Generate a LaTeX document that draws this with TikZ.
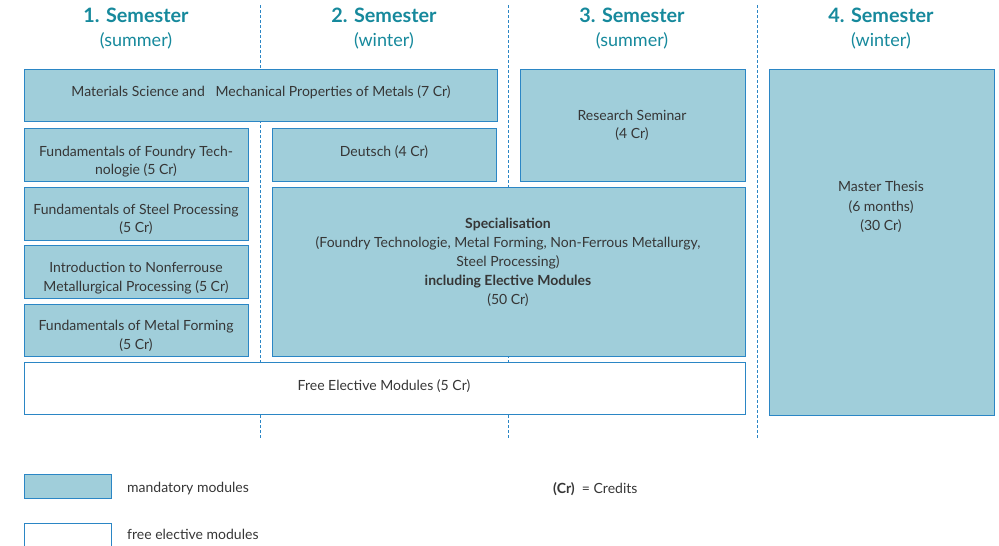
\documentclass[tikz,border=0pt]{standalone}
\usepackage{fontspec}
\setmainfont{Lato}
\definecolor{modfill}{HTML}{A0CEDA}
\definecolor{modline}{HTML}{2B86C5}
\definecolor{headc}{HTML}{16899C}
\definecolor{txt}{HTML}{363636}
\begin{document}
\begin{tikzpicture}[x=1pt,y=-1pt,
  mand/.style={draw=modline,line width=1.1pt,fill=modfill,anchor=north west,inner sep=0pt},
  free/.style={mand,fill=white},
  lbl/.style={text=txt,font=\fontsize{14}{18.7}\selectfont,align=center,inner sep=0pt},
  head/.style={text=headc,font=\fontsize{19.8}{22}\selectfont\bfseries,inner sep=0pt},
  sub/.style={text=headc,font=\fontsize{18}{20}\selectfont,inner sep=0pt},
  sep/.style={draw=modline,line width=1pt,dash pattern=on 2.5pt off 2.5pt}]
\useasboundingbox (0,0) rectangle (999,546);
% separators
\coordinate (s1t) at (260,5); \coordinate (s1b) at (260,438);
\coordinate (s2t) at (508,5); \coordinate (s2b) at (508,438);
\coordinate (s3t) at (757,5); \coordinate (s3b) at (757,438);
\draw[sep] (s1t) -- (s1b);
\draw[sep] (s2t) -- (s2b);
\draw[sep] (s3t) -- (s3b);
% headings
\node[head] (h1) at (136,15) {1. Semester};
\node[sub]  (u1) at (136,41) {(summer)};
\node[head] (h2) at (384,15) {2. Semester};
\node[sub]  (u2) at (384,41) {(winter)};
\node[head] (h3) at (632,15) {3. Semester};
\node[sub]  (u3) at (632,41) {(summer)};
\node[head] (h4) at (881,15) {4. Semester};
\node[sub]  (u4) at (881,41) {(winter)};
% boxes
\node[mand,minimum width=473pt,minimum height=52pt] (mat) at (24,69) {};
\node[lbl] (matt) at (261,92) {Materials Science and\ \ \ Mechanical Properties of Metals (7 Cr)};
\node[mand,minimum width=224pt,minimum height=53pt] (fou) at (24,128) {};
\node[lbl] (fout) at (136,161.5) {Fundamentals of Foundry Tech-\\nologie (5 Cr)};
\node[mand,minimum width=224pt,minimum height=53pt] (ste) at (24,187) {};
\node[lbl] (stet) at (136,219.5) {Fundamentals of Steel Processing\\(5 Cr)};
\node[mand,minimum width=224pt,minimum height=53pt] (non) at (24,245) {};
\node[lbl] (nont) at (136,278) {Introduction to Nonferrouse\\Metallurgical Processing (5 Cr)};
\node[mand,minimum width=224pt,minimum height=52pt] (for) at (24,304) {};
\node[lbl] (fort) at (136,336) {Fundamentals of Metal Forming\\(5 Cr)};
\node[mand,minimum width=224pt,minimum height=53pt] (deu) at (272,128) {};
\node[lbl] (deut) at (384,152) {Deutsch (4 Cr)};
\node[mand,minimum width=473pt,minimum height=169pt] (spe) at (272,187) {};
\node[lbl,font=\fontsize{14}{19}\selectfont] (spet) at (508,262) {\textbf{Specialisation}\\(Foundry Technologie, Metal Forming, Non-Ferrous Metallurgy,\\Steel Processing)\\\textbf{including Elective Modules}\\(50 Cr)};
\node[mand,minimum width=225pt,minimum height=112pt] (res) at (520,69) {};
\node[lbl] (rest) at (632,125.5) {Research Seminar\\(4 Cr)};
\node[mand,minimum width=225pt,minimum height=346pt] (the) at (769,69) {};
\node[lbl,font=\fontsize{14}{19.7}\selectfont] (thet) at (881,207) {Master Thesis\\(6 months)\\(30 Cr)};
\node[free,minimum width=721pt,minimum height=52pt] (fre) at (24,362) {};
\node[lbl] (fret) at (384,386) {Free Elective Modules (5 Cr)};
% legend
\node[mand,minimum width=87pt,minimum height=24pt] (lm) at (24,474) {};
\node[lbl,anchor=west] (lmt) at (127,489) {mandatory modules};
\node[free,minimum width=87pt,minimum height=24pt] (lf) at (24,523) {};
\node[lbl,anchor=west] (lft) at (127,534) {free elective modules};
\node[lbl,anchor=west] (cr) at (553,489) {\textbf{(Cr)}\ \ = Credits};
\end{tikzpicture}
\end{document}
